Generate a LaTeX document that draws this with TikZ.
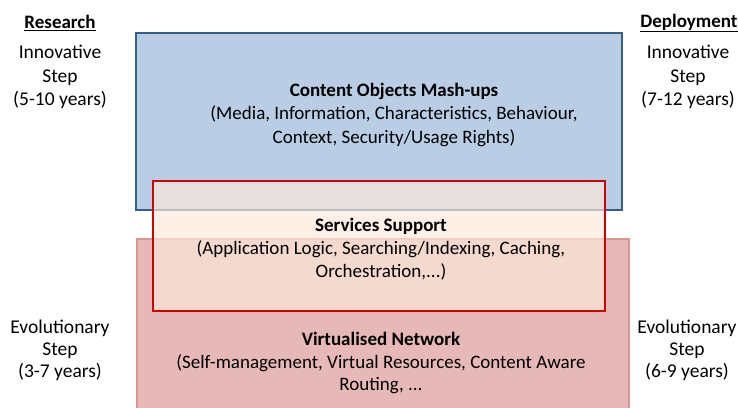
\documentclass[tikz,border=0pt]{standalone}
\usepackage{fontspec}
\setmainfont{Carlito}
\usepackage{tikz}
\usetikzlibrary{positioning}
\definecolor{contentfill}{HTML}{B9CDE5}
\definecolor{contentline}{HTML}{385D8A}
\definecolor{networkfill}{HTML}{E6B9B8}
\definecolor{networkline}{HTML}{D99694}
\definecolor{servicefill}{HTML}{FCE9DA}
\definecolor{serviceline}{HTML}{CC0000}
\tikzstyle{layer}=[draw, line width=2pt, inner sep=0pt]
\tikzstyle{label}=[align=center, font=\fontsize{19}{23}\selectfont, inner sep=0pt]
\tikzstyle{side}=[align=center, font=\fontsize{19.5}{23.5}\selectfont, inner sep=0pt]
\tikzstyle{heading}=[font=\fontsize{19}{23}\selectfont\bfseries, inner sep=0pt]

\begin{document}
\begin{tikzpicture}[x=1pt, y=-1pt]
    \useasboundingbox (0,0) rectangle (738,407);
    \node (content) [layer, draw=contentline, fill=contentfill, minimum width=486pt, minimum height=177pt] at (379,121.5) {};
    \node (network) [layer, draw=networkline, fill=networkfill, minimum width=492pt, minimum height=172pt] at (382.5,325) {};
    \node (service) [layer, draw=serviceline, fill=servicefill, fill opacity=0.68, draw opacity=1, minimum width=452pt, minimum height=130pt] at (379,245.5) {};
    \node (contenttext) [label, font=\fontsize{19}{23.5}\selectfont] at (394,114.5) {\textbf{Content Objects Mash-ups}\\(Media, Information, Characteristics, Behaviour,\\Context, Security/Usage Rights)};
    \node (servicetext) [label] at (381,249.5) {\textbf{Services Support}\\(Application Logic, Searching/Indexing, Caching,\\Orchestration,...)};
    \node (networktext) [label, font=\fontsize{19}{22.5}\selectfont] at (381,363) {\textbf{Virtualised Network}\\(Self-management, Virtual Resources, Content Aware\\Routing, ...};
    \node (research) [heading] at (60,23) {\underline{Research}};
    \node (deploy) [heading] at (689,23) {\underline{Deployment}};
    \node (innovleft) [side] at (60,77) {Innovative\\Step\\(5-10 years)};
    \node (innovright) [side] at (688,77) {Innovative\\Step\\(7-12 years)};
    \node (evolleft) [side, font=\fontsize{19.5}{22}\selectfont] at (60,350) {Evolutionary\\Step\\(3-7 years)};
    \node (evolright) [side, font=\fontsize{19.5}{22}\selectfont] at (687,350) {Evolutionary\\Step\\(6-9 years)};
\end{tikzpicture}
\end{document}
